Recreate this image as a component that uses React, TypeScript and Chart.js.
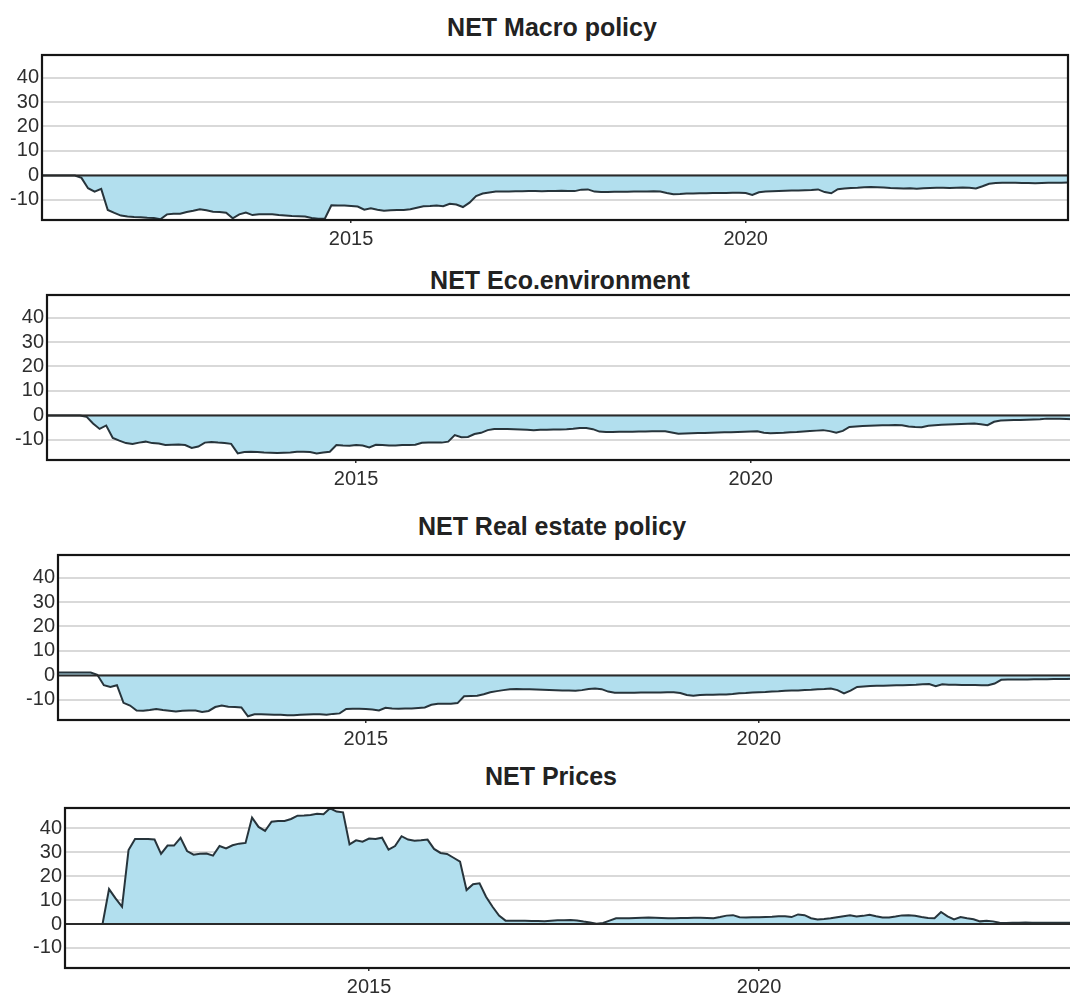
import React, { useEffect, useRef } from "react";
import { Chart, registerables } from "chart.js";

Chart.register(...registerables);
Chart.defaults.font.family = '"Liberation Sans", Arial, sans-serif';

// Monthly series, first month = Feb 2011
const START_YEAR = 2011;
const START_MONTH = 2;

const macroPolicy = [
  0, 0, 0, 0, 0, 0, -1, -5.2, -6.6, -5.5,
  -14.1, -15.3, -16.4, -16.8, -17.0, -17.1, -17.3, -17.4, -17.9, -15.9,
  -15.6, -15.6, -14.9, -14.4, -13.8, -14.2, -14.8, -14.9, -15.2, -17.5,
  -15.9, -15.2, -16.2, -15.9, -15.9, -15.9, -16.2, -16.4, -16.6, -16.7,
  -16.8, -17.4, -17.7, -17.7, -12.2, -12.3, -12.3, -12.5, -12.7, -14.0,
  -13.4, -14.0, -14.4, -14.2, -14.1, -14.1, -13.8, -13.2, -12.6, -12.5,
  -12.3, -12.6, -11.6, -11.9, -12.9, -11.1, -8.4, -7.4, -7.0, -6.6,
  -6.6, -6.6, -6.5, -6.5, -6.4, -6.4, -6.5, -6.4, -6.4, -6.3,
  -6.4, -6.4, -5.8, -5.7, -6.6, -6.8, -6.8, -6.7, -6.7, -6.7,
  -6.6, -6.6, -6.6, -6.5, -6.6, -7.2, -7.7, -7.6, -7.4, -7.4,
  -7.3, -7.3, -7.2, -7.2, -7.2, -7.1, -7.1, -7.2, -8.0, -6.9,
  -6.6, -6.5, -6.4, -6.3, -6.2, -6.1, -6.0, -5.9, -5.7, -6.8,
  -7.3, -5.6, -5.3, -5.1, -5.0, -4.8, -4.7, -4.8, -4.9, -5.1,
  -5.2, -5.3, -5.2, -5.4, -5.2, -5.1, -5.0, -5.0, -5.1, -5.0,
  -4.9, -5.0, -5.3, -4.4, -3.4, -3.1, -3.0, -3.0, -3.0, -3.1,
  -3.1, -3.2, -3.1, -3.0, -3.0, -3.0, -2.9,
];

const ecoEnvironment = [
  0, 0, 0, 0, 0, 0, -0.5, -3.3, -5.5, -4.1,
  -9.2, -10.3, -11.3, -11.7, -11.1, -10.7, -11.3, -11.5, -12.1, -12.0,
  -11.9, -12.1, -13.3, -12.7, -11.1, -10.8, -11.1, -11.3, -11.6, -15.5,
  -14.9, -14.8, -14.9, -15.1, -15.2, -15.3, -15.2, -15.1, -14.8, -14.8,
  -14.9, -15.5, -15.1, -14.8, -12.1, -12.3, -12.4, -12.1, -12.3, -13.1,
  -12.0, -12.1, -12.3, -12.3, -12.1, -12.1, -12.0, -11.2, -11.1, -11.1,
  -11.1, -10.7, -8.0, -8.9, -8.8, -7.6, -7.1, -6.0, -5.5, -5.5,
  -5.5, -5.6, -5.7, -5.8, -6.0, -5.8, -5.8, -5.7, -5.7, -5.6,
  -5.4, -5.1, -5.1, -5.6, -6.6, -6.8, -6.8, -6.7, -6.7, -6.7,
  -6.6, -6.6, -6.5, -6.5, -6.5, -7.0, -7.5, -7.4, -7.3, -7.2,
  -7.2, -7.1, -7.0, -6.9, -6.9, -6.8, -6.7, -6.6, -6.5, -7.1,
  -7.3, -7.2, -7.1, -6.9, -6.8, -6.6, -6.4, -6.2, -6.0, -6.4,
  -7.1, -6.3, -4.7, -4.5, -4.3, -4.2, -4.1, -4.0, -4.0, -3.9,
  -4.0, -4.5, -4.7, -4.8, -4.2, -4.0, -3.8, -3.7, -3.6, -3.5,
  -3.4, -3.3, -3.6, -4.0, -2.6, -2.1, -2.0, -1.9, -1.9, -1.8,
  -1.7, -1.6, -1.3, -1.3, -1.4, -1.5, -1.6,
];

const realEstatePolicy = [
  1.2, 1.2, 1.2, 1.2, 1.2, 1.2, 0.3, -4.0, -4.7, -4.0,
  -11.2, -12.3, -14.3, -14.4, -14.1, -13.7, -14.1, -14.4, -14.7, -14.4,
  -14.3, -14.3, -14.9, -14.5, -12.9, -12.3, -12.8, -12.9, -13.1, -16.7,
  -15.9, -15.9, -16.0, -16.1, -16.1, -16.3, -16.3, -16.1, -16.0, -15.9,
  -15.9, -16.1, -15.7, -15.5, -13.7, -13.6, -13.6, -13.7, -13.9, -14.3,
  -13.2, -13.5, -13.6, -13.5, -13.5, -13.3, -13.1, -12.0, -11.6, -11.6,
  -11.6, -11.3, -8.5, -8.4, -8.3, -7.7, -6.9, -6.4, -6.0, -5.6,
  -5.5, -5.6, -5.6, -5.7, -5.8, -5.9, -6.0, -6.1, -6.2, -6.3,
  -6.0, -5.5, -5.3, -5.6, -6.6, -7.1, -7.1, -7.1, -7.1, -7.0,
  -7.0, -7.0, -7.0, -6.9, -6.9, -7.2, -8.0, -8.3, -8.0, -7.9,
  -7.9, -7.8, -7.8, -7.6, -7.3, -7.2, -7.0, -6.9, -6.8, -6.6,
  -6.5, -6.3, -6.2, -6.1, -5.9, -5.8, -5.6, -5.5, -5.3, -6.0,
  -7.3, -6.2, -4.7, -4.5, -4.3, -4.2, -4.2, -4.1, -4.0, -4.0,
  -3.9, -3.8, -3.6, -3.5, -4.4, -3.6, -3.8, -3.8, -3.9, -3.9,
  -3.9, -4.0, -4.0, -3.3, -1.8, -1.7, -1.7, -1.7, -1.7, -1.6,
  -1.6, -1.6, -1.5, -1.5, -1.5, -1.4, -1.4,
];

const prices = [
  0, 0, 0, 0, 0, 0, 0, 14.6, 10.7, 7.2,
  30.9, 35.5, 35.5, 35.5, 35.3, 29.3, 32.8, 32.8, 36.0, 30.5,
  29.0, 29.4, 29.5, 28.6, 32.6, 31.6, 32.9, 33.6, 33.9, 44.5,
  40.6, 38.9, 42.8, 43.1, 43.1, 43.9, 45.3, 45.4, 45.6, 46.1,
  45.9, 48.4, 47.0, 46.7, 33.3, 35.0, 34.4, 35.7, 35.5, 36.1,
  31.1, 32.6, 36.7, 35.3, 34.8, 35.0, 35.3, 31.4, 29.7, 29.3,
  27.7, 26.1, 14.2, 16.6, 17.0, 11.4, 7.2, 3.5, 1.4, 1.4,
  1.4, 1.4, 1.3, 1.2, 1.1, 1.4, 1.6, 1.6, 1.7, 1.5,
  1.0, 0.6, 0.1, 0.4, 1.4, 2.4, 2.4, 2.4, 2.5, 2.6,
  2.7, 2.6, 2.5, 2.4, 2.4, 2.5, 2.5, 2.6, 2.6, 2.5,
  2.4, 2.9, 3.5, 3.7, 2.8, 2.7, 2.8, 2.8, 2.9, 3.0,
  3.2, 3.2, 2.9, 4.0, 3.7, 2.4, 1.9, 2.1, 2.4, 2.8,
  3.2, 3.6, 3.1, 3.4, 3.9, 3.2, 2.7, 2.7, 3.1, 3.6,
  3.7, 3.4, 2.9, 2.5, 2.4, 5.0, 3.2, 1.9, 2.9, 2.4,
  2.0, 1.1, 1.4, 1.1, 0.5, 0.4, 0.5, 0.5, 0.6, 0.5,
  0.5, 0.5, 0.5, 0.5, 0.5, 0.5, 0.5,
];

const yTickValues = [-10, 0, 10, 20, 30, 40];
const xTickValues = [2015, 2020];
const titles = ["NET Macro policy", "NET Eco.environment", "NET Real estate policy", "NET Prices"];
const seriesList = [macroPolicy, ecoEnvironment, realEstatePolicy, prices];

const monthPositions = (n: number) =>
  Array.from({ length: n }, (_, i) => START_YEAR + (START_MONTH - 1 + i) / 12);

// layout of each panel (pixels) and axis windows
const panels = [
  { areaLeft: 42, areaTop: 55, areaW: 1026, areaH: 165, xMin: 2011.0833, xMax: 2024.0833, yMin: -18.2, yMax: 49.2, titleCenter: 552, titleTop: 15 },
  { areaLeft: 47, areaTop: 295, areaW: 1026, areaH: 165, xMin: 2011.0833, xMax: 2024.0833, yMin: -18.2, yMax: 49.2, titleCenter: 560, titleTop: 268 },
  { areaLeft: 58, areaTop: 555, areaW: 1022, areaH: 165, xMin: 2011.0833, xMax: 2024.086, yMin: -18.2, yMax: 49.2, titleCenter: 552, titleTop: 514 },
  { areaLeft: 65, areaTop: 808, areaW: 1020, areaH: 160, xMin: 2011.102, xMax: 2024.179, yMin: -18.4, yMax: 48.5, titleCenter: 551, titleTop: 764 },
];

const PAD_TOP = 5;
const PAD_RIGHT = 2;
const X_AXIS_H = 40;

const LINE_COLOR = "#27343b";
const FILL_COLOR = "#b2dfee";
const GRID_COLOR = "#d9d9d9";
const TEXT_COLOR = "#2e2e2e";

const panelDecor = {
  id: "panelDecor",
  afterDatasetsDraw(chart: any) {
    const { ctx, chartArea: a, scales } = chart;
    const y0 = scales.y.getPixelForValue(0);
    ctx.save();
    ctx.strokeStyle = "#2a2a2a";
    ctx.lineWidth = 2;
    ctx.beginPath();
    ctx.moveTo(a.left, y0);
    ctx.lineTo(a.right, y0);
    ctx.stroke();
    ctx.strokeStyle = "#151515";
    ctx.lineWidth = 2.2;
    ctx.strokeRect(a.left, a.top, a.right - a.left, a.bottom - a.top);
    ctx.restore();
  },
};

function Panel({ idx }: { idx: number }) {
  const ref = useRef<HTMLCanvasElement>(null);
  const p = panels[idx];
  const width = p.areaLeft + p.areaW + PAD_RIGHT;
  const height = PAD_TOP + p.areaH + X_AXIS_H;

  useEffect(() => {
    if (!ref.current) return;
    const values = seriesList[idx];
    const xs = monthPositions(values.length);
    const chart = new Chart(ref.current, {
      type: "line",
      data: {
        datasets: [
          {
            data: values.map((v, i) => ({ x: xs[i], y: v })),
            borderColor: LINE_COLOR,
            borderWidth: 2,
            backgroundColor: FILL_COLOR,
            fill: "origin",
            pointRadius: 0,
            tension: 0,
          },
        ],
      },
      options: {
        responsive: false,
        animation: false,
        devicePixelRatio: 1,
        layout: { padding: { top: PAD_TOP, right: PAD_RIGHT, left: 0, bottom: 0 } },
        plugins: { legend: { display: false }, tooltip: { enabled: false }, title: { display: false } },
        scales: {
          x: {
            type: "linear",
            min: p.xMin,
            max: p.xMax,
            afterBuildTicks: (s: any) => {
              s.ticks = xTickValues.map((v) => ({ value: v }));
            },
            afterFit: (s: any) => {
              s.height = X_AXIS_H;
              s.paddingLeft = 0;
              s.paddingRight = 0;
            },
            ticks: {
              autoSkip: false,
              maxRotation: 0,
              padding: 4,
              color: TEXT_COLOR,
              font: { size: 20 },
              callback: (v: any) => String(v),
            },
            grid: { display: true, drawOnChartArea: false, drawTicks: true, tickLength: 3, color: "#333", lineWidth: 1.5 },
            border: { display: false },
          },
          y: {
            min: p.yMin,
            max: p.yMax,
            afterBuildTicks: (s: any) => {
              s.ticks = yTickValues.map((v) => ({ value: v }));
            },
            afterFit: (s: any) => {
              s.width = p.areaLeft;
              s.paddingTop = 0;
              s.paddingBottom = 0;
            },
            ticks: {
              autoSkip: false,
              padding: 3,
              color: TEXT_COLOR,
              font: { size: 20 },
              callback: (v: any) => String(v),
            },
            grid: { color: GRID_COLOR, lineWidth: 2, drawTicks: false },
            border: { display: false },
          },
        },
      },
      plugins: [panelDecor],
    });
    return () => chart.destroy();
  }, [idx]);

  return (
    <>
      <div
        style={{
          position: "absolute",
          left: p.titleCenter - 300,
          top: p.titleTop,
          width: 600,
          textAlign: "center",
          fontFamily: '"Liberation Sans", Arial, sans-serif',
          fontWeight: "bold",
          fontSize: 25,
          lineHeight: "25px",
          color: "#222",
          whiteSpace: "nowrap",
        }}
      >
        {titles[idx]}
      </div>
      <canvas
        ref={ref}
        width={width}
        height={height}
        style={{ position: "absolute", left: 0, top: p.areaTop - PAD_TOP, width, height }}
      />
    </>
  );
}

export default function App() {
  return (
    <div
      style={{
        position: "absolute",
        left: 0,
        top: 0,
        width: 1070,
        height: 994,
        overflow: "hidden",
        background: "#ffffff",
      }}
    >
      {panels.map((_, i) => (
        <Panel key={i} idx={i} />
      ))}
    </div>
  );
}
